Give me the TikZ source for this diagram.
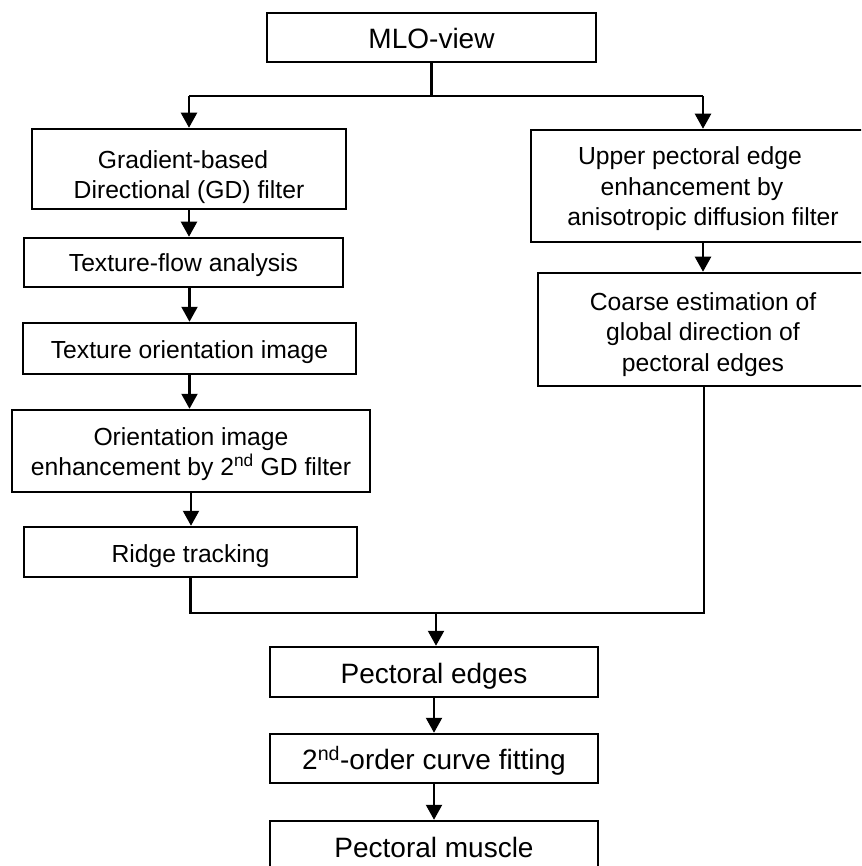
\documentclass[tikz,border=0pt]{standalone}
\usepackage{fontspec}
\setmainfont{Liberation Sans}
\usetikzlibrary{arrows.meta}

\tikzset{
  stepbox/.style={draw=black, line width=2.5pt, inner sep=0pt},
  txt/.style={inner sep=0pt, align=center,
    font=\fontsize{24.7pt}{30.5pt}\selectfont},
  bigtxt/.style={inner sep=0pt, align=center,
    font=\fontsize{28pt}{33pt}\selectfont},
  link/.style={draw=black, line width=2.2pt},
  arr/.style={link, -{Triangle[length=15pt,width=16pt]}}
}

\begin{document}
\begin{tikzpicture}[x=1pt, y=-1pt]
  \clip (0,0) rectangle (861,866);
  \fill[white] (0,0) rectangle (861,866);

  % top box
  \node[stepbox, minimum width=329pt, minimum height=49pt] (mlo) at (431.5,37.5) {};
  \node[bigtxt] (mlo-t) at ([yshift=-1pt]mlo.center) {MLO-view};

  % left branch
  \node[stepbox, minimum width=314pt, minimum height=80pt] (gd) at (189,169) {};
  \node[txt] (gd-t) at ([yshift=-8pt]gd.center)
    {Gradient-based\makebox[12pt]{}\\Directional (GD) filter};
  \node[stepbox, minimum width=319pt, minimum height=49pt] (tf) at (183.5,262.5) {};
  \node[txt] (tf-t) at ([yshift=-3pt]tf.center) {Texture-flow analysis};
  \node[stepbox, minimum width=333pt, minimum height=51pt] (to) at (189.5,348.5) {};
  \node[txt] (to-t) at ([yshift=-4pt]to.center) {Texture orientation image};
  \node[stepbox, minimum width=358pt, minimum height=82pt] (oe) at (191,451) {};
  \node[txt] (oe-t) at ([yshift=-3pt]oe.center)
    {Orientation image\\enhancement by 2\textsuperscript{nd} GD filter};
  \node[stepbox, minimum width=333pt, minimum height=50pt] (rt) at (190.5,552) {};
  \node[txt] (rt-t) at ([yshift=-4pt]rt.center) {Ridge tracking};

  % right branch
  \node[stepbox, minimum width=344pt, minimum height=112pt] (up) at (703,186) {};
  \node[txt] (up-t) at ([yshift=-3pt]up.center)
    {Upper pectoral edge\makebox[26pt]{}\\enhancement by\makebox[22pt]{}\\anisotropic diffusion filter};
  \node[stepbox, minimum width=332pt, minimum height=113pt] (ce) at (704,329.5) {};
  \node[txt] (ce-t) at ([xshift=-1pt, yshift=-5pt]ce.center)
    {Coarse estimation of\\global direction of\\pectoral edges};

  % final chain
  \node[stepbox, minimum width=328pt, minimum height=50pt] (pe) at (434,672) {};
  \node[bigtxt] (pe-t) at ([yshift=-4pt]pe.center) {Pectoral edges};
  \node[stepbox, minimum width=328pt, minimum height=49pt] (cf) at (434,758.5) {};
  \node[bigtxt] (cf-t) at ([yshift=-2pt]cf.center) {2\textsuperscript{nd}-order curve fitting};
  \node[stepbox, minimum width=328pt, minimum height=49pt] (pm) at (434,845.5) {};
  \node[bigtxt] (pm-t) at ([yshift=-2pt]pm.center) {Pectoral muscle};

  % split below the top box
  \coordinate (sp)  at (431.5,96);
  \coordinate (spL) at (189,96);
  \coordinate (spR) at (703,96);
  \draw[link] (mlo.south) -- (sp);
  \draw[link] (spL) -- (spR);
  \draw[arr] (spL) -- (gd.north);
  \draw[arr] (spR) -- (up.north);

  % left chain
  \draw[arr] (gd.south) -- (gd.south |- tf.north);
  \draw[arr] (to.north |- tf.south) -- (to.north);
  \draw[arr] (to.south) -- (to.south |- oe.north);
  \draw[arr] (oe.south) -- (oe.south |- rt.north);

  % right chain
  \draw[arr] (up.south) -- (up.south |- ce.north);

  % merge
  \coordinate (mg) at (436,613);
  \draw[link] (rt.south) |- (ce.south |- mg) -- (ce.south);
  \draw[arr] (mg) -- (mg |- pe.north);

  % bottom chain
  \draw[arr] (pe.south) -- (cf.north);
  \draw[arr] (cf.south) -- (pm.north);
\end{tikzpicture}
\end{document}
